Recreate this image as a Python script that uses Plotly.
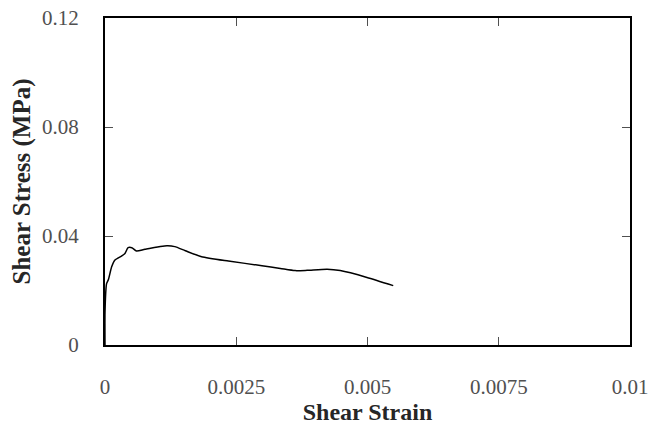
import plotly.graph_objects as go

strain = [0.0, 0.0, 0.00003, 0.000063, 0.000127, 0.00019, 0.00032, 0.00038, 0.00044, 0.00051,
          0.0006, 0.00076, 0.00118, 0.00133, 0.00153, 0.00184, 0.00235, 0.00299, 0.00334,
          0.00362, 0.00385, 0.00423, 0.00448, 0.00499, 0.00549]
stress = [0.0, 0.012, 0.0225, 0.0239, 0.0287, 0.0312, 0.0327, 0.0336, 0.0357, 0.0357,
          0.0345, 0.0351, 0.0364, 0.0361, 0.0346, 0.0324, 0.0308, 0.0291, 0.0281,
          0.0273, 0.0274, 0.0278, 0.0273, 0.0248, 0.0218]

x_ticks = [0, 0.0025, 0.005, 0.0075, 0.01]
x_labels = ["0", "0.0025", "0.005", "0.0075", "0.01"]
y_ticks = [0, 0.04, 0.08, 0.12]
y_labels = ["0", "0.04", "0.08", "0.12"]

fig = go.Figure()
fig.add_trace(go.Scatter(x=strain, y=stress, mode="lines",
                         line=dict(color="black", width=1.5, shape="spline", smoothing=0.6),
                         showlegend=False, hoverinfo="skip"))

font_family = "Liberation Serif, DejaVu Serif, serif"
tick_color = "#505050"
title_color = "#262626"
fig.update_layout(
    width=666, height=425,
    margin=dict(l=105, r=36, t=18, b=80, autoexpand=False),
    paper_bgcolor="white", plot_bgcolor="white",
    font=dict(family=font_family, color=tick_color),
)
fig.update_xaxes(
    range=[0, 0.01], tickvals=x_ticks, ticktext=x_labels,
    ticks="inside", ticklen=8, tickcolor=tick_color, tickwidth=1,
    showline=True, linecolor="black", linewidth=2, mirror="ticks",
    showgrid=False, zeroline=False, automargin=False,
    ticklabelstandoff=22, ticklabeloverflow="allow",
    tickfont=dict(size=21, color=tick_color, family=font_family),
    title=dict(text="<b>Shear Strain</b>", font=dict(size=24, color=title_color, family=font_family), standoff=0),
)
fig.update_yaxes(
    range=[0, 0.12], tickvals=y_ticks, ticktext=y_labels,
    ticks="inside", ticklen=8, tickcolor=tick_color, tickwidth=1,
    showline=True, linecolor="black", linewidth=2, mirror="ticks",
    showgrid=False, zeroline=False, automargin=False,
    ticklabelstandoff=20, ticklabeloverflow="allow",
    tickfont=dict(size=21, color=tick_color, family=font_family),
    title=dict(text="<b>Shear Stress (MPa)</b>", font=dict(size=25, color=title_color, family=font_family), standoff=4),
)
fig.write_html("out.html", config={"displayModeBar": False},
               post_script="document.body.style.margin='0';")
